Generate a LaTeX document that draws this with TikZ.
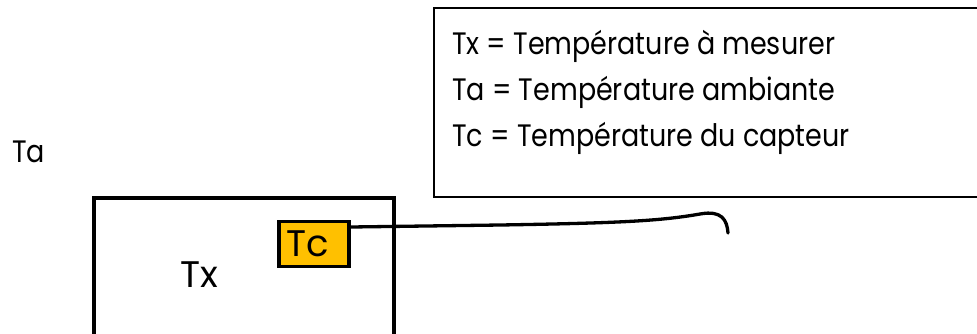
\documentclass[tikz,border=0pt]{standalone}
\usepackage{fontspec}
\setmainfont{Poppins}
\newfontfamily\legendfont{Poppins}[FakeStretch=0.87]
\begin{document}
\begin{tikzpicture}[x=1pt,y=-1pt,
  thickline/.style={line width=3.5pt},
  lbl/.style={inner sep=0pt,anchor=base west},
  legendtxt/.style={lbl,font=\legendfont\fontsize{31}{31}\selectfont},
  bigtxt/.style={lbl,font=\fontsize{37}{37}\selectfont}]
\useasboundingbox (0,0) rectangle (977,333);
% legend box
\draw[line width=1.7pt] (434,8) rectangle (990,197);
\node[legendtxt] (l1) at (452,54) {Tx = Température à mesurer};
\node[legendtxt] (l2) at (452,100) {Ta = Température ambiante};
\node[legendtxt] (l3) at (452,146) {Tc = Température du capteur};
% ambient label
\node[legendtxt] (ta) at (12,162) {Ta};
% measured object
\draw[thickline] (94,340) -- (94,198) -- (394,198) -- (394,340);
\node[bigtxt] (tx) at (180,287) {Tx};
% sensor
\node[draw,line width=3.5pt,fill={rgb,255:red,255;green,192;blue,0},minimum width=70pt,minimum height=45pt,inner sep=0pt] (tc) at (314,244) {};
\node[bigtxt] (tctext) at (286,256) {Tc};
\coordinate (wend) at (728,233);
\draw[line width=3.3pt,line cap=round] (tc.east|-0,227) -- (500,225) .. controls (620,223) and (660,221) .. (700,214) .. controls (722,210) and (727,220) .. (wend);
\end{tikzpicture}
\end{document}
